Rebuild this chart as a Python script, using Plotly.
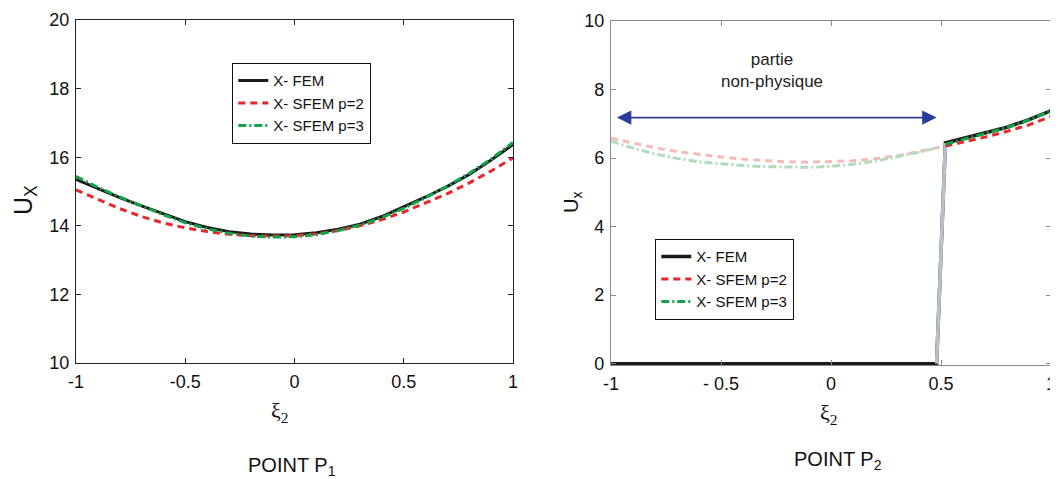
import plotly.graph_objects as go

# ---------------- data: point P1 ----------------
xi = [-1.0, -0.9, -0.8, -0.7, -0.6, -0.5, -0.4, -0.3, -0.2, -0.1, 0.0,
      0.1, 0.2, 0.3, 0.4, 0.5, 0.6, 0.7, 0.8, 0.9, 1.0]
p1_fem = [15.35, 15.08, 14.82, 14.58, 14.34, 14.12, 13.95, 13.83, 13.76, 13.73, 13.74,
          13.80, 13.90, 14.05, 14.27, 14.55, 14.84, 15.15, 15.50, 15.92, 16.37]
p1_sfem2 = [15.05, 14.78, 14.50, 14.27, 14.08, 13.94, 13.83, 13.75, 13.71, 13.70, 13.71,
            13.76, 13.86, 14.00, 14.18, 14.40, 14.66, 14.94, 15.25, 15.60, 15.98]
p1_sfem3 = [15.44, 15.12, 14.84, 14.57, 14.32, 14.09, 13.91, 13.78, 13.70, 13.67, 13.68,
            13.74, 13.86, 14.02, 14.24, 14.51, 14.82, 15.16, 15.53, 15.95, 16.43]

# ---------------- data: point P2 ----------------
p2_fem_x = [-1.0, -0.5, 0.0, 0.48, 0.52, 0.6, 0.7, 0.8, 0.9, 1.0]
p2_fem_y = [0.0, 0.0, 0.0, 0.0, 6.44, 6.57, 6.73, 6.90, 7.12, 7.38]
p2_jump_x = [0.48, 0.52]
p2_jump_y = [0.0, 6.44]

# non-physical part (faded)
p2_np_x = [-1.0, -0.9, -0.8, -0.7, -0.6, -0.5, -0.4, -0.3, -0.2, -0.1, 0.0,
           0.1, 0.2, 0.3, 0.4, 0.5]
p2_np_sfem2 = [6.58, 6.43, 6.30, 6.19, 6.10, 6.03, 5.97, 5.92, 5.89, 5.88, 5.89,
               5.92, 5.98, 6.07, 6.19, 6.33]
p2_np_sfem3 = [6.49, 6.29, 6.12, 5.99, 5.89, 5.83, 5.78, 5.75, 5.73, 5.73, 5.76,
               5.82, 5.91, 6.03, 6.17, 6.33]
# physical part
p2_ph_x = [0.52, 0.6, 0.7, 0.8, 0.9, 1.0]
p2_ph_sfem2 = [6.35, 6.46, 6.61, 6.78, 6.97, 7.21]
p2_ph_sfem3 = [6.40, 6.54, 6.71, 6.89, 7.11, 7.38]

arrow_x = [-0.98, 0.48]
arrow_y = 7.18
note_x, note_y = -0.27, 8.55

x_ticks = [-1, -0.5, 0, 0.5, 1]
x_ticktext_left = ["-1", "-0.5", "0", "0.5", "1"]
x_ticktext_right = ["-1", "- 0.5", "0", "0.5", "1"]
y_ticks_left = [10, 12, 14, 16, 18, 20]
y_ticks_right = [0, 2, 4, 6, 8, 10]

BLACK = "#1a1a1a"
RED = "#e8262b"
GREEN = "#13a34a"
RED_FADED = "#f4bcb8"
GREEN_FADED = "#b0dcbc"
GRAY_JUMP = "#b8c0c8"

W, H = 1058, 479
OFF = 8  # page body margin


def px(v):
    return (v - OFF) / W


def py(v):
    return 1 - (v - OFF) / H


fig = go.Figure()

dash_red = "7px,5px"
dash_green = "8px,3px,2px,3px"

# left plot
fig.add_trace(go.Scatter(x=xi, y=p1_fem, mode="lines", name="X- FEM",
                         line=dict(color=BLACK, width=3), legend="legend",
                         xaxis="x", yaxis="y"))
fig.add_trace(go.Scatter(x=xi, y=p1_sfem2, mode="lines", name="X- SFEM p=2",
                         line=dict(color=RED, width=3, dash=dash_red), legend="legend",
                         xaxis="x", yaxis="y"))
fig.add_trace(go.Scatter(x=xi, y=p1_sfem3, mode="lines", name="X- SFEM p=3",
                         line=dict(color=GREEN, width=3, dash=dash_green), legend="legend",
                         xaxis="x", yaxis="y"))

# right plot
fig.add_trace(go.Scatter(x=p2_np_x, y=p2_np_sfem2, mode="lines", showlegend=False,
                         line=dict(color=RED_FADED, width=3, dash=dash_red),
                         xaxis="x2", yaxis="y2"))
fig.add_trace(go.Scatter(x=p2_np_x, y=p2_np_sfem3, mode="lines", showlegend=False,
                         line=dict(color=GREEN_FADED, width=3, dash=dash_green),
                         xaxis="x2", yaxis="y2"))
fig.add_trace(go.Scatter(x=p2_fem_x, y=p2_fem_y, mode="lines", name="X- FEM",
                         line=dict(color=BLACK, width=3.5), legend="legend2",
                         xaxis="x2", yaxis="y2"))
fig.add_trace(go.Scatter(x=p2_jump_x, y=p2_jump_y, mode="lines", showlegend=False,
                         line=dict(color=GRAY_JUMP, width=3.6),
                         xaxis="x2", yaxis="y2"))
fig.add_trace(go.Scatter(x=p2_ph_x, y=p2_ph_sfem2, mode="lines", name="X- SFEM p=2",
                         line=dict(color=RED, width=3, dash=dash_red), legend="legend2",
                         xaxis="x2", yaxis="y2"))
fig.add_trace(go.Scatter(x=p2_ph_x, y=p2_ph_sfem3, mode="lines", name="X- SFEM p=3",
                         line=dict(color=GREEN, width=3, dash=dash_green), legend="legend2",
                         xaxis="x2", yaxis="y2"))

FONT = "Liberation Sans, Arial, sans-serif"
SERIF = "Liberation Serif, Times New Roman, serif"
tickfont = dict(family=FONT, size=18, color="#111")


def xax(domain, color, ticktext, anchor):
    return dict(domain=domain, range=[-1, 1], tickvals=x_ticks, ticktext=ticktext,
                ticks="inside", ticklen=5, tickcolor=color, showline=True,
                linecolor=color, linewidth=1.3, mirror="ticks", showgrid=False,
                zeroline=False, tickfont=tickfont, anchor=anchor, ticklabelstandoff=2,
                automargin=False)


def yax(domain, color, rng, tv, anchor):
    return dict(domain=domain, range=rng, tickvals=tv, ticks="inside", ticklen=5,
                tickcolor=color, showline=True, linecolor=color, linewidth=1.3,
                mirror="ticks", showgrid=False, zeroline=False, tickfont=tickfont,
                anchor=anchor, ticklabelstandoff=2, automargin=False)


legfont = dict(family=FONT, size=15, color="#111")
fig.update_layout(
    width=W, height=H,
    margin=dict(l=0, r=0, t=0, b=0, autoexpand=False),
    paper_bgcolor="white", plot_bgcolor="white",
    font=dict(family=FONT, color="#111"),
    xaxis=xax([px(76), px(513)], "#222", x_ticktext_left, "y"),
    yaxis=yax([py(363), py(20)], "#222", [10, 20], y_ticks_left, "x"),
    xaxis2=xax([px(611), px(1051)], "#8a8a8a", x_ticktext_right, "y2"),
    yaxis2=yax([py(365), py(21)], "#8a8a8a", [-0.04, 10], y_ticks_right, "x2"),
    legend=dict(x=px(232), y=py(63), xanchor="left", yanchor="top",
                bordercolor="#111", borderwidth=1.3, bgcolor="white",
                font=legfont, itemwidth=30, tracegroupgap=0),
    legend2=dict(x=px(655), y=py(239), xanchor="left", yanchor="top",
                 bordercolor="#111", borderwidth=1.3, bgcolor="white",
                 font=legfont, itemwidth=30, tracegroupgap=0),
)

ann = []


def pa(text, x, y, font, angle=0):
    ann.append(dict(text=text, x=px(x), y=py(y), xref="paper", yref="paper",
                    xanchor="center", yanchor="middle", showarrow=False,
                    textangle=angle, font=font))


# axis titles
pa("ξ<sub>2</sub>", 280, 412, dict(family=SERIF, size=22, color="#111"))
pa("ξ<sub>2</sub>", 829, 414, dict(family=SERIF, size=22, color="#111"))
pa("U<sub>X</sub>", 25, 200, dict(family=FONT, size=25, color="#111"), -90)
pa("U<sub>x</sub>", 572, 203, dict(family=FONT, size=20, color="#111"), -90)
# panel captions
pa("POINT P<sub>1</sub>", 292, 466, dict(family=FONT, size=20, color="#111"))
pa("POINT P<sub>2</sub>", 838, 460, dict(family=FONT, size=20, color="#111"))
# note and arrow
ann.append(dict(text="partie<br>non-physique", x=note_x, y=note_y, xref="x2", yref="y2",
                xanchor="center", yanchor="middle",
                showarrow=False, font=dict(family=FONT, size=17, color="#222")))
ann.append(dict(text="", x=arrow_x[1], y=arrow_y, ax=arrow_x[0], ay=arrow_y,
                xref="x2", yref="y2", axref="x2", ayref="y2", showarrow=True,
                arrowhead=2, startarrowhead=2, arrowside="end+start", arrowsize=1.8,
                startarrowsize=1.8, arrowwidth=1.6, arrowcolor="#2b3c9b"))
fig.update_layout(annotations=ann)

fig.write_html("out.html")
